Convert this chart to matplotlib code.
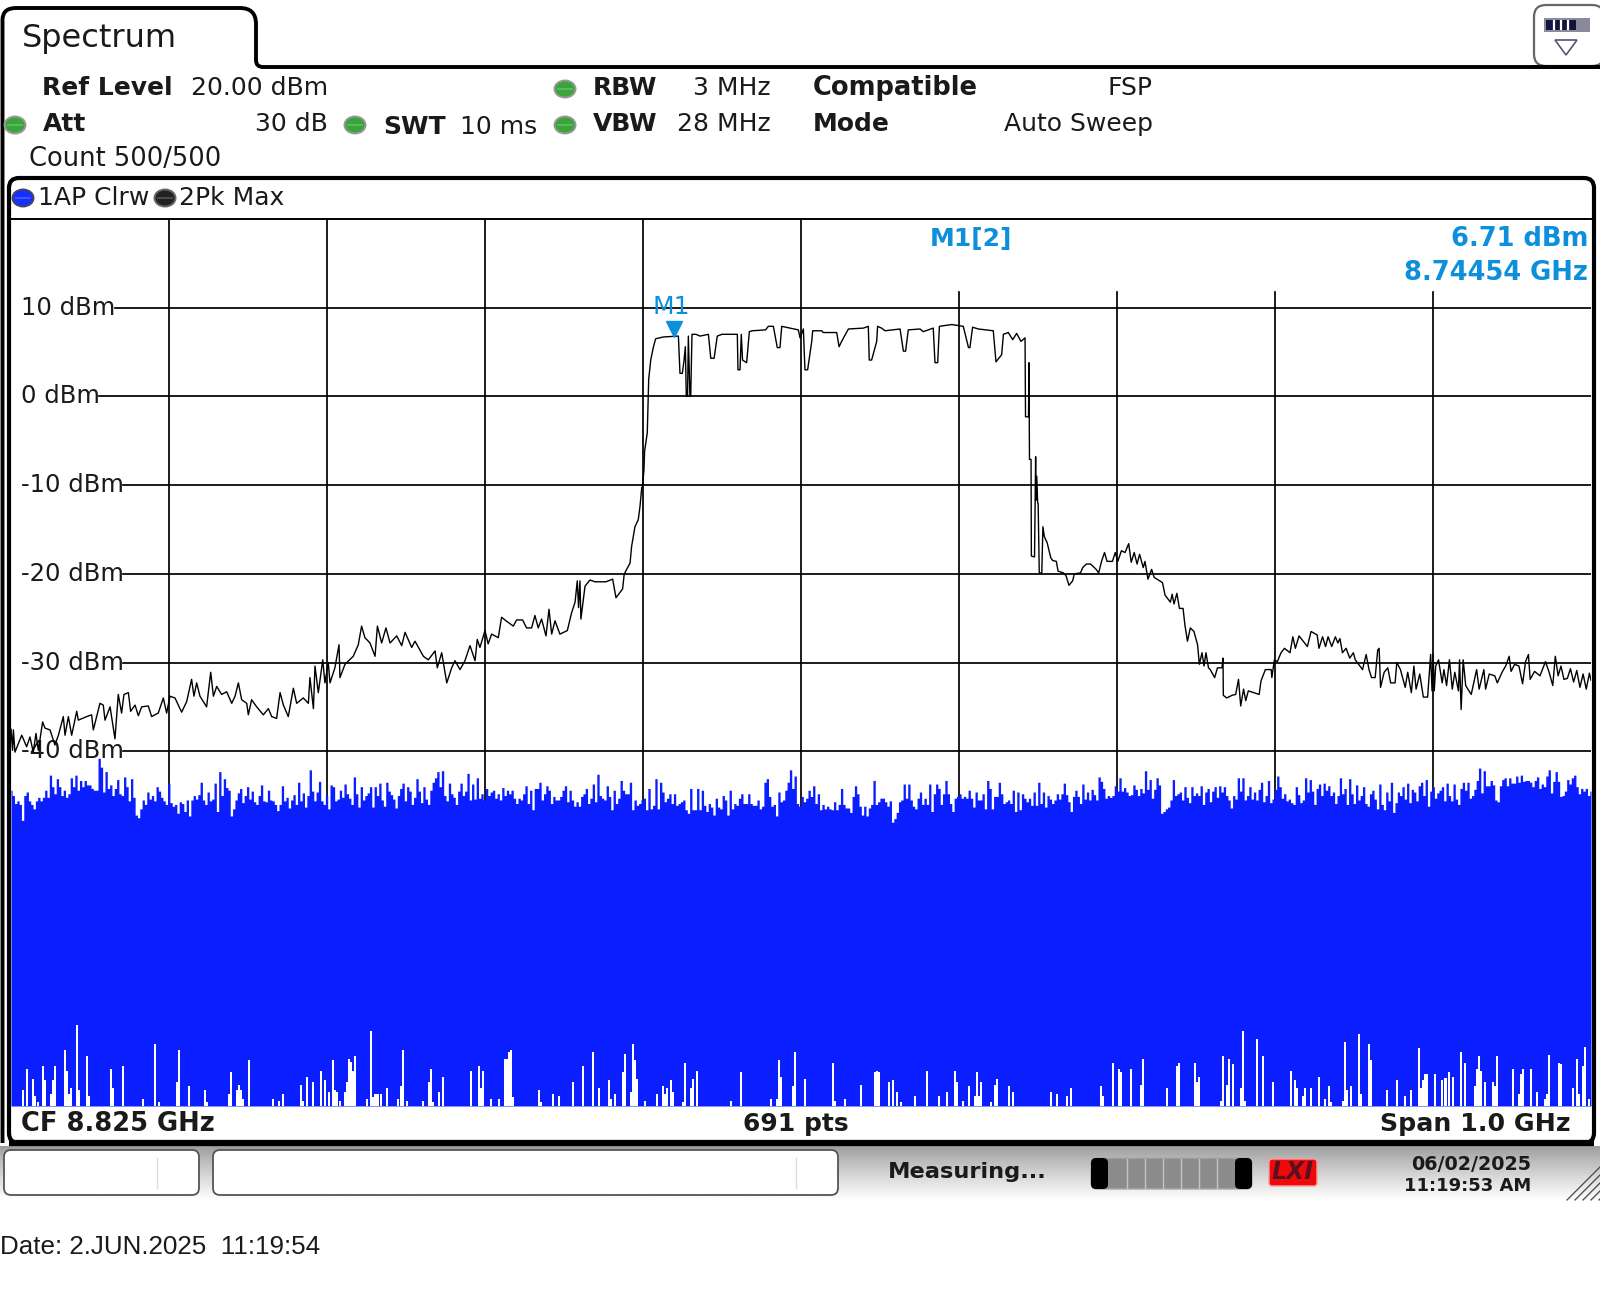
import numpy as np
import matplotlib
matplotlib.use('Agg')
import matplotlib.pyplot as plt
from matplotlib.patches import FancyBboxPatch, Ellipse, Rectangle, Polygon, PathPatch
from matplotlib.path import Path

CF_GHZ = 8.825
SPAN_MHZ = 1000
REF_LEVEL = 20
MARKER_MHZ = 419.54
MARKER_DBM = 6.71

# grid levels and their labels
levels = [10, 0, -10, -20, -30, -40]
level_labels = ['10 dBm', '0 dBm', '-10 dBm', '-20 dBm', '-30 dBm', '-40 dBm']
grid_starts = [66, 56, 71, 71, 71, 71]  # MHz where the line leaves the label
full_height_lines = [100, 200, 300, 400, 500]
short_lines = [600, 700, 800, 900]

# trace 2, Pk Max (offset from start frequency in MHz, level in dBm)
trace2_mhz = [
    0, 1, 1.5, 2.5, 6.8, 9.9, 12, 14.1, 15.8, 17.3, 20, 21.5, 24.7, 27.8, 30, 33.1, 34.2, 36.3, 38.4, 41.6,
    42.6, 47.9, 51, 52.1, 56.3, 58.4, 59.5, 62.7, 65.8, 67.9, 70, 71.5, 74.3, 75.7, 78.5, 80.6, 82.7, 86.9,
    89, 93.2, 96.4, 98.5, 100.6, 103.8, 108, 111.2, 114.3, 115.8, 117.5, 119.6, 123.8, 126.4, 128.1, 130.2,
    133.3, 136.5, 139.7, 141.8, 143.9, 146, 149.2, 150.2, 152.3, 155.5, 159.7, 162.9, 165, 168.1, 170.3,
    172.4, 175.5, 178.7, 180.8, 185, 188.2, 189.2, 191.4, 192.4, 194.5, 197.3, 198.7, 200.8, 201.9, 205,
    207.6, 208.2, 211.4, 216.6, 219.8, 221.9, 224, 227.2, 230.4, 231.9, 234.6, 237.3, 239.9, 244.1, 247.3,
    249.4, 253.6, 255.7, 261, 264.1, 268.4, 269.8, 272.6, 275.8, 278.9, 281, 284.2, 287.3, 290.5, 293.7,
    295.1, 296.8, 300, 302, 304.2, 308.4, 310.5, 313.3, 317.9, 320, 323.8, 326.3, 329.5, 331.6, 333.7,
    335.8, 338.6, 340.5, 342.2, 344.3, 347.4, 352.1, 354.8, 357, 358.4, 359.2, 360.1, 360.7, 363.3, 366.4,
    369.6, 376.6, 380.8, 382.9, 387.1, 388, 388.6, 391.8, 392.8, 394.9, 397, 398.1, 399.2, 399.6, 400.6,
    401, 402.7, 403.6, 404.9, 406.5, 408, 412.9, 422.4, 423.4, 424.9, 426, 426.8, 427.4, 428.2, 428.7,
    429.7, 430.2, 431, 433.5, 436.1, 441.4, 442.9, 445, 447, 450, 459.7, 460.1, 461.4, 462.2, 463, 465.6,
    467.3, 469.2, 477.6, 479.3, 482.5, 485, 486.7, 487.8, 498.3, 499.4, 501.5, 502.5, 504.2, 506.8, 507.4,
    513.1, 514.1, 522.6, 524.1, 525.7, 530, 539.5, 542.6, 543.2, 544.7, 547.9, 548.5, 551, 553.2, 562.7,
    564.8, 566.2, 567.9, 575.3, 577.4, 583.7, 584.8, 586.5, 587.6, 595.4, 602.7, 606, 606.9, 608.6, 612.2,
    621.7, 623.4, 627, 628.1, 631.2, 634, 636.5, 639.2, 641.8, 642.1, 644, 644.3, 644.6, 645.6, 645.8,
    647.8, 648.5, 648.7, 649.2, 649.8, 650.1, 650.8, 652.4, 653.1, 654, 655.8, 658.1, 659.3, 661.6, 662.7,
    666.1, 667.7, 669.6, 671.9, 673, 676.9, 678.3, 680.6, 683.3, 686.8, 688.4, 690.2, 692.1, 693.7, 697.1,
    698.9, 700.5, 702.8, 705.1, 707.4, 709, 710.9, 712.7, 714.3, 716.6, 717.7, 719.6, 721.9, 723.5, 728.8,
    730.4, 733.8, 734.9, 736.1, 737.9, 739.5, 741.8, 743, 744.6, 746.4, 748.7, 751, 752.1, 753.8, 755.1,
    756.3, 757.9, 759, 761.8, 763.6, 766.4, 767.1, 767.3, 769.4, 772.8, 775.1, 776.9, 778.3, 780.1, 781.5,
    783.1, 786.6, 790, 791.1, 793.9, 797.6, 798, 799.6, 801.5, 803.8, 806, 809.5, 811.3, 812.9, 815.2,
    820.5, 822.8, 826.7, 827.8, 830.1, 832, 833.6, 835.9, 838.2, 839.8, 841.1, 842.7, 845, 847.3, 849.6,
    850.8, 855.4, 857.7, 859.5, 861.1, 863.4, 865, 865.9, 866.8, 869.1, 871.4, 873.2, 876, 877.1, 879.4,
    882.4, 884, 886.3, 887.9, 889.3, 891.6, 893.9, 896.6, 898.5, 899.4, 900.1, 900.8, 901.7, 903.5, 905.8,
    906.9, 908.6, 910.4, 912.2, 913.8, 916.1, 916.8, 917.8, 919.1, 920.7, 924.2, 927.6, 929.2, 932.2, 933.3,
    935.6, 939.1, 940.7, 943.7, 946, 948.2, 949.4, 951.7, 954.4, 956.7, 958.6, 960.4, 961.5, 964.3, 967.7,
    971.2, 973.5, 975.8, 977.4, 979.2, 981, 982.9, 985, 987, 989, 991, 993, 995, 997, 999, 1000,
]
trace2_dbm = [
    -37.5, -39.9, -37.6, -40.1, -38.2, -39.5, -38.4, -40.1, -38, -39.9, -36.7, -37.4, -37.6, -39.3, -38.2, -36.1, -38.2, -36.1, -38.2, -35.5,
    -36.5, -36.1, -35.9, -37.6, -34.6, -34.8, -36.5, -35, -38.6, -33.6, -35.7, -33.6, -33.4, -35.5, -34.8, -36, -35, -34.9,
    -36.1, -35.7, -34, -35.7, -33.8, -34, -35.6, -34.4, -31.9, -33.8, -32.3, -33.8, -35, -31.1, -33.8, -32.7,
    -33.6, -33.3, -34.6, -33.8, -32.3, -34.2, -34.6, -35.9, -34.2, -35, -35.9, -35.2, -36.1, -36.3, -33.4,
    -34.8, -36.1, -32.9, -34.6, -34, -34.6, -31.7, -35.2, -30.4, -33.4, -29.7, -32.3, -30, -32.3, -30.6,
    -28, -31.7, -30.2, -29.3, -28, -25.9, -27.2, -27.8, -29.3, -25.9, -27.8, -26.1, -27.8, -27, -28.1,
    -26.6, -28.3, -27.6, -29.3, -29.7, -28.7, -30.6, -28.9, -32.3, -30.6, -29.8, -30.8, -29.8, -28.1, -29.8,
    -27.4, -28.3, -26.4, -27.9, -26.8, -27.2, -24.9, -25.3, -25.9, -25.2, -25.2, -26.1, -26.1, -24.7, -26.1,
    -25.1, -27, -24, -26.8, -25.3, -26.8, -26.4, -24.4, -23.2, -20.8, -23.8, -20.8, -25.1, -21.4, -20.7,
    -20.9, -20.9, -20.6, -22.7, -21.7, -20.2, -19.85, -18.8, -16.9, -14.7, -13.9, -12.4, -10.3, -10.3, -8.3,
    -6.2, -4.1, 1.9, 4.1, 5.5, 6.5, 6.7, 6.8, 2.6, 2.6, 4.1, 5.6, 0, 0, 6.8,
    0, 0, 7, 7, 6.8, 7, 4.3, 4.3, 6.8, 7, 7, 3, 3, 7, 4.1, 3.8,
    7.3, 7.4, 7.5, 7.9, 7.9, 5.5, 5.5, 7.9, 7.5, 6.6, 7.6, 3, 3, 6.2, 7.4,
    7.4, 7.2, 7.2, 5.6, 6.2, 7.6, 7.7, 7.9, 4.1, 4.1, 6.2, 7.9, 7.7, 7.4, 7.6,
    5.1, 5.1, 7.5, 7.6, 7.3, 7.7, 3.8, 3.8, 7.9, 8.1, 7.9, 5.5, 5.5, 7.8, 7.6,
    7.4, 3.9, 4.7, 7, 7.2, 6.4, 7.1, 6.2, 6.6, -2.3, -2.3, 3.8, -7.1, -7.1, -18,
    -18.1, -6.8, -11.7, -9, -12, -12.1, -19.9, -19.9, -14.7, -15.8, -16.5, -18.2, -18.5, -18.6, -19.7,
    -19.9, -20.2, -21.3, -20.8, -20, -19.9, -19.3, -18.9, -18.9, -19.5, -19.9, -18.6, -17.6, -18.6, -18.6,
    -17.6, -18.6, -17.4, -17.6, -16.6, -18.7, -17.6, -18.9, -17.8, -19.3, -18.6, -20.6, -19.5, -20.4, -21,
    -22.4, -23.2, -22.3, -23.4, -22.2, -23.9, -23.9, -25.8, -27.6, -26.1, -26.5, -28, -30.2, -28.9, -30.4,
    -28.9, -30.6, -30.8, -31.7, -30.6, -30.6, -29.5, -33.7, -34, -33.7, -33.6, -31.9, -34.9, -33, -34.3,
    -33.2, -33.4, -33.6, -32.1, -30.8, -30.8, -31.7, -29.7, -29.9, -28.9, -28.4, -28.9, -27.1, -28.4, -27,
    -28.2, -26.5, -26.9, -28.4, -27.1, -28.2, -27.1, -28.2, -27.1, -27.8, -27.3, -28.9, -28.4, -29.5, -28.9,
    -29.7, -30.8, -29.1, -30.8, -31.7, -31.7, -28.6, -28.4, -32.8, -31.1, -30.6, -32.3, -32.3, -30, -30.8,
    -32.8, -31.1, -33.4, -30.4, -33, -31.3, -33.9, -33.9, -29.1, -33.2, -29.1, -33.2, -30.4, -29.7, -32.3,
    -30.8, -32.6, -29.7, -33, -31.1, -33.2, -29.7, -35.3, -29.7, -32.6, -33.6, -30.8, -33, -30.8, -33,
    -31.3, -31.5, -32.3, -31.1, -30.4, -29.3, -31, -30.2, -30.4, -32.4, -29.9, -29.1, -31.9, -31, -31.5,
    -29.9, -31.1, -32.6, -29.3, -31.5, -30.4, -31.9, -31.8, -30.7, -32.2, -30.9, -32.8, -31.3, -33, -31.2, -32,
]

# trace 1, AP Clrw: top edge of the blue band, one value per sweep bin (dBm)
trace1_top = [
    -44.4, -45, -45.9, -45.6, -46, -47.8, -45, -44.6, -45.6, -46, -46.5, -45.6, -45.2, -45.6, -45.2, -44.4, -45.2, -42.7, -44, -44.8,
    -43.1, -44, -45, -44.4, -45.2, -44.8, -43, -44, -42.7, -44.4, -43.3, -44, -43.3, -43.8, -43.8, -44.2, -44.4, -44.4, -40.8, -41.8,
    -44.6, -42.3, -44.2, -43.8, -45, -44.2, -43.2, -44.8, -45, -42.9, -44, -45.6, -43.1, -45.2, -47.2, -47.5, -46.5, -45.5, -46, -44.6,
    -45.4, -45, -45.6, -44, -44.5, -45.2, -45.6, -46, -43.6, -45.8, -46.2, -46, -47, -45.7, -45.9, -46.8, -45.5, -47.3, -45.5, -45,
    -45.4, -44.9, -43.5, -45.5, -46, -44.6, -45.6, -45.4, -43.6, -46.8, -42.3, -45, -43.1, -44.1, -44.4, -47.3, -46.5, -45.5, -44.7, -44.2,
    -45.8, -45, -44, -45.4, -44.5, -45.7, -46, -45, -43.8, -45.6, -45.7, -44.4, -45.5, -45.6, -46, -46.7, -46, -43.9, -45.6, -45.2,
    -46.4, -45.5, -44.9, -46, -43.5, -45.6, -44.7, -46.3, -45, -42.1, -44.5, -45.6, -44.6, -43.4, -45.6, -46, -45, -46.5, -43.8, -44,
    -45.6, -45.4, -44.4, -45.2, -43.7, -44.8, -45.3, -46, -42.9, -44.8, -46.3, -44, -45.5, -45, -44.7, -44, -46.3, -44, -45, -43.6,
    -45.5, -46.2, -43.5, -44.5, -44.9, -45.4, -46.4, -45, -44.2, -43.6, -45.6, -44, -44.5, -46, -45.2, -43.1, -44.5, -45.8, -44, -45.4,
    -46, -44.4, -43.5, -43, -42.3, -44, -42.2, -45, -45.6, -43.6, -44.8, -45.2, -46, -44.5, -43.6, -45, -44.5, -42.5, -45.5, -43.7,
    -45.4, -43, -45.3, -44.8, -45.5, -44.2, -45, -44.6, -44.4, -45.3, -44.8, -45.5, -44.1, -45,
    -44.4, -44.8, -44.4, -45.3, -45.9, -45.3, -45.5, -44.8, -43.9, -45.9, -44.4, -46.6, -44.2, -44.2, -43.5, -45.5, -44.8, -43.9, -44.4, -45.9,
    -45.1, -45.5, -45.5, -45.1, -44.4, -43.9, -45.7, -44.4, -45.5, -46.2, -45.7, -46.2, -45.1, -44.8, -44.2, -45.9, -45.3, -43.7, -45.7, -42.6,
    -45, -45.3, -45.5, -43.9, -45.1, -46.6, -44.4, -45.9, -45.3, -43.3, -44.4, -44.8, -44.8, -43.5, -46.6, -45.5, -46.1, -45.9, -45.5, -45.3,
    -46.6, -44.2, -46.5, -46.1, -43.1, -46.5, -43.5, -44.6, -45.7, -45.3, -44.8, -45.9, -44.8, -46.1, -45.9, -45.7, -45.5, -46.6, -47, -44.2,
    -46.6, -46.6, -44.2, -46.6, -44.4, -46.1, -46.8, -45.9, -46.3, -47.2, -45.3, -46.3, -46.5, -45, -45.5, -47.2, -44.4, -46.5, -45.9, -46.1,
    -45.3, -44.8, -45.9, -45.9, -44.8, -45.9, -46.1, -46.1, -45.5, -46.5,
    -46.2, -43.5, -43.1, -45.1, -46.2, -46, -47.3, -44.6, -45.7, -45.5, -44.4, -43.5, -42.1, -44.2, -42.8, -45.9, -46.2, -45.1, -45.7, -45.3,
    -44.4, -45.1, -43.9, -45.9, -44.8, -46.6, -46, -46.5, -46.2, -46.5, -46.6, -45.7, -46.6, -46, -44.2, -46, -46.4, -46.4, -46.9, -45.1,
    -43.9, -44.8, -46.2, -47.2, -46.2, -47.3, -46.4, -46, -43.3, -46, -45.7, -45.3, -45.3, -45.7, -46.2, -45.6, -48, -47.6, -46.9, -45.7,
    -45.5, -43.7, -45.3, -43.7, -45.5, -46.2, -46.5, -45.3, -44.6, -46, -45.3, -46, -43.7, -46.8, -44.8, -43.7, -44.2, -46, -44.8, -43.3,
    -44.8, -45.9, -46.8, -45.3, -45.1, -44.8, -45.3, -45.1, -45.3, -44.4, -45.3, -46.3, -44.6, -45.5, -45.5, -44.8, -46.5, -43.3, -44.2, -46.5,
    -45.1, -45.1, -43.5, -44.8, -45.9, -45.7, -45.5, -45.9, -44.4, -46.8, -44.6, -46.6, -44.8, -45.3, -45.7, -45.3, -46.1, -44.6, -46.1, -43.5,
    -45.9, -44.6, -46.3, -45, -45.4, -45.9, -45.5, -44.8, -45.4, -44.8, -43.6, -44.9, -45.7, -46.8, -45.1, -44.4, -45.1, -45.9, -43.7, -45.4,
    -44.6, -45.5, -44.3, -44.9, -45.5, -42.9, -43.4, -44.2, -45.3, -45, -45.2, -45, -43.9, -44.5, -43, -44.5, -44.1, -44.6, -45, -44.9,
    -43.8, -44.3, -45, -44.2, -44.7, -42.2, -44.3, -43.2, -45.3, -44.3, -43, -43.8, -47, -46.8, -46.5, -46.3, -45.5, -43.2, -45, -44.8,
    -44.6, -45.5, -44, -45.2, -45.8, -44, -45, -44.7, -45, -43.9, -46, -44.6, -44.2, -45.7, -44.5, -44, -45.2, -43.9, -44.6, -44,
    -45, -45.5, -46.4, -45, -45.4, -43, -44.5, -43, -45.5, -45, -44, -45.4, -44.6, -45.5, -44.3, -43.5, -45.7, -45, -43.3, -45.8,
    -45.4, -44.3, -42.8, -44, -45.3, -44.8, -45.6, -45.4, -45.8, -46, -44, -44.9, -45.8, -45.5, -43, -44.6, -43.2, -44.5, -46, -44.2,
    -43.7, -45, -43.6, -44.4, -43.9, -45, -44.6, -45.9, -45, -43, -44.8, -44.2, -46, -43.1, -44.8, -45.9, -43.8, -45.5, -45, -44,
    -45.9, -46.2, -44.8, -44.4, -45.4, -46.5, -43.7, -46, -46.6, -44.6, -45.6, -43.5, -46.9, -45.8, -44.6, -45, -44, -45.4, -43.6, -45.8,
    -44.3, -44.6, -45.6, -43.9, -43.5, -45, -43.2, -46.2, -44.5, -44, -45.3, -44.7, -44.4, -44, -45.6, -43.6, -45, -45.6, -43.7, -45.4,
    -46, -44.2, -43.5, -44.4, -43.5, -45.3, -45, -44.3, -43.3, -41.9, -44.7, -42.2, -43.9, -43.9, -43.3, -43.8, -45.5, -45.7, -43.9, -43.2,
    -43, -43.9, -43, -43.6, -43.6, -42.8, -43.5, -42.7, -43.4, -43.3, -43.3, -43.5, -44, -43.3, -42.9, -44.2, -43.7, -44, -42.8, -42.1,
    -44.7, -43.4, -42.3, -43.4, -45.1, -45, -44.5, -43.2, -43.7, -43, -42.7, -44, -44.8, -44.2, -44.5, -44.2, -45, -44.5,
]

# gaps at the bottom of the blue band (MHz, level where blue starts in dBm)
gap_mhz = [
    7.6, 10.1, 14, 15, 17.2, 20.1, 21.4, 25.3, 26.6, 27.9, 34, 35.3, 36.6, 37.9, 41.8, 43.1, 47.9, 49.2, 63.4, 64.7,
    70.8, 83.4, 91.2, 93.8, 105, 106.4, 112.5, 122.8, 123.8, 138, 139.3, 143.2, 144.1, 145.4, 146.7, 150.6, 165.8, 169.6, 172.2, 183.5,
    184.8, 187.4, 191.3, 196.1, 198.7, 201.3, 203.9, 205.2, 206.5, 208.4, 211.3, 212.6, 213.9, 215.2, 216.5, 217.8, 225.5, 227.8, 229.1, 230.7,
    232, 233.9, 238.1, 245.2, 246.8, 248.1, 250.7, 260.7, 264.6, 265.9, 267.2, 270.7, 273.3, 291, 296.2, 297.5, 298.8, 303.7, 308.8, 312.7,
    314, 315.3, 316.6, 317.8, 334, 335.3, 343, 346.9, 355.6, 362, 368.2, 372, 378.5, 379.9, 382.4, 387.3, 388.6, 392.4, 393.7, 395,
    396.3, 401.5, 408.9, 412.8, 414.1, 415.4, 417.6, 418.9, 425.4, 426.7, 430.2, 431.5, 434.1, 455.7, 461.8, 480.9, 484.8, 486.1, 487.4, 494.8,
    496.1, 502.6, 520.4, 521.7, 527.8, 538.1, 546.9, 548.2, 549.4, 555.6, 558.2, 560.7, 563.3, 572, 579.8, 587.2, 592.4, 597.6, 598.9, 602.7,
    606.3, 610.2, 611.4, 612.7, 614, 620.2, 622.7, 624, 631.8, 634, 658.3, 662.1, 668.3, 670.9, 689.9, 691.2, 697.7, 701.2, 702.5, 709,
    715.1, 716.4, 731.6, 738, 739.3, 749.3, 750.6, 751.9, 765.8, 767.1, 769.7, 771, 773.5, 778.4, 779.7, 781, 788.7, 792.6, 798.7, 810,
    812.6, 813.9, 817.8, 819.1, 822.9, 827.8, 831.7, 834.2, 835.5, 843, 844.3, 845.5, 848.1, 853.3, 854.6, 859.4, 860.7, 870.7, 877.2, 882.4,
    885.9, 891.1, 892.4, 893.7, 895, 896.2, 901.4, 905.6, 907.9, 910.1, 912.7, 917.9, 920.5, 926.6, 927.9, 929.2, 930.5, 933.1, 937.9, 939.2,
    940.5, 950.5, 954.4, 955.7, 957, 962.1, 966, 971.1, 972.4, 973.4, 979.9, 981.2, 988.6, 991.2, 992.4, 995, 996.3, 998.9,
]
gap_dbm = [
    -78.2, -75.8, -76.9, -78.9, -79.6, -75.5, -77.1, -78.7, -77.1, -75.5, -73.7, -76, -78.6, -78, -70.9, -78.2, -74.4, -78.9, -75.8, -78,
    -75.5, -79.2, -73, -79.6, -77.3, -73.7, -77.8, -78.2, -79.6, -78.7, -76.2, -78.2, -77.6, -78.2, -79.2, -74.8, -79.2, -79.4, -78.7, -77.6,
    -79.4, -76.7, -77.3, -76, -77.1, -78.4, -74.8, -78.2, -78.4, -79.4, -78.4, -77.3, -74.7, -75, -76, -74.4, -79.2, -71.5, -79, -78.7,
    -78.7, -78.7, -78, -79.2, -77.8, -73.7, -79.4, -79.4, -77.3, -75.8, -79.6, -78.4, -76.7, -76, -75.5, -78, -76, -79.2, -79.2, -74.7,
    -74.7, -73.9, -73.7, -79, -78.2, -79.6, -78.7, -78.9, -77.3, -75.5, -73.9, -78, -77.1, -79.2, -78.7, -76.2, -74.1, -78.4, -73, -74.8,
    -77, -79.4, -78.7, -77.8, -78.7, -78, -77.1, -78.4, -79.6, -75.1, -78, -76.9, -76, -79.4, -76.2, -79.2, -79.2, -74.8, -76.7, -77.8,
    -73.9, -76.9, -75.1, -79.4, -79.2, -77.6, -76.2, -76, -76.2, -77.3, -77.1, -78.4, -79.6, -78.9, -76, -78.9, -78.4, -76, -77.3, -79.4,
    -77.8, -78.9, -76.2, -78.9, -77.3, -79.6, -77.6, -76.9, -77.8, -78.4, -78.4, -78.7, -78.9, -78, -77.8, -78.9, -75.1, -75.8, -76.2, -75.8,
    -77.6, -74.7, -78, -75.5, -75.1, -75.1, -77.3, -76.7, -79.4, -74.4, -77.6, -74.7, -75.3, -78, -71.5, -79.4, -72.4, -74.4, -77.3, -76,
    -77.1, -78, -78.9, -78, -78, -76.7, -79.2, -77.8, -79.6, -79.4, -72.8, -78.2, -77.8, -71.9, -78.7, -73, -74.8, -78.2, -77.1, -78.9,
    -78.2, -73.5, -78, -77.1, -76.4, -76.4, -76.4, -77.1, -76.8, -76.2, -76.7, -73.9, -75.1, -77.8, -75.8, -74.4, -76, -77.3, -77.3, -77.8,
    -74.4, -75.8, -78.7, -76.4, -75.8, -75.8, -78.4, -79.2, -78.7, -74.2, -75.1, -75.3, -78, -74.7, -78.7, -75.5, -73.3, -79.2,
]

BLUE = '#0a1eff'
MARK = '#0d8fdc'
TXT = '#1a1a1a'
W, H = 1600, 1292

plt.rcParams['font.family'] = ['DejaVu Sans']
fig = plt.figure(figsize=(W / 100, H / 100), dpi=100, facecolor='white')

# --- instrument screen, in pixels ---
ui = fig.add_axes([0, 0, 1, 1], zorder=0)
ui.set_xlim(0, W)
ui.set_ylim(H, 0)
ui.axis('off')


def label(x, y, s, bold=False, ha='left', size=18, color=TXT):
    ui.text(x, y, s, ha=ha, va='center', fontsize=size, color=color,
            fontweight='bold' if bold else 'normal')


def led(x, y, col, edge='#999999'):
    ui.add_patch(Ellipse((x, y), 21, 17, fc=col, ec=edge, lw=1.4))
    ui.add_patch(Rectangle((x - 8, y - 1), 16, 2, fc='white', ec='none', alpha=0.18))


# status bar gradient
grad = np.linspace(0.45, 0.99, 30).reshape(-1, 1) ** 0.6
ui.imshow(grad, extent=(0, W, 1200, 1146), cmap='gray', vmin=0, vmax=1, aspect='auto', zorder=0)
ui.set_xlim(0, W)
ui.set_ylim(H, 0)

# tab outline and outer edge
tab = Path([(2.5, 1143), (2.5, 20), (2.5, 8), (16, 8), (240, 8), (256, 8), (256, 24), (256, 60), (256, 67), (263, 67), (1600, 67)],
           [Path.MOVETO, Path.LINETO, Path.CURVE3, Path.CURVE3, Path.LINETO, Path.CURVE3, Path.CURVE3, Path.LINETO,
            Path.CURVE3, Path.CURVE3, Path.LINETO])
ui.add_patch(PathPatch(tab, fc='none', ec='black', lw=2.8))
# settings button
ui.add_patch(FancyBboxPatch((1534, 5), 70, 61, boxstyle='round,pad=0,rounding_size=12', fc='white', ec='#666666', lw=1.6))
ui.plot([1534, 1600], [67, 67], color='black', lw=2.8)
ui.add_patch(Rectangle((1544, 18), 46, 14, fc='#8a8a9a', ec='none'))
ui.add_patch(Rectangle((1546, 20), 30, 10, fc='#14143c', ec='none'))
for xb in [1554, 1561, 1568]:
    ui.plot([xb, xb], [21, 29], color='white', lw=1.6)
ui.add_patch(Polygon([[1555, 40], [1577, 40], [1566, 55]], fc='white', ec='#555577', lw=1.2))

# trace window frame
ui.add_patch(FancyBboxPatch((9, 178), 1585, 965, boxstyle='round,pad=0,rounding_size=10', fc='white', ec='black', lw=3))
ui.plot([9, 1594], [1143, 1143], color='black', lw=4.5, solid_capstyle='butt')
ui.plot([9, 1594], [219, 219], color='black', lw=1.4)

# header
label(22, 38, 'Spectrum', size=23)
label(42, 88, 'Ref Level', bold=True)
label(328, 88, '20.00 dBm', ha='right')
label(43, 124, 'Att', bold=True)
label(328, 124, '30 dB', ha='right')
label(383, 127, 'SWT', bold=True)
label(537, 127, '10 ms', ha='right')
label(593, 88, 'RBW', bold=True)
label(771, 88, '3 MHz', ha='right')
label(593, 124, 'VBW', bold=True)
label(771, 124, '28 MHz', ha='right')
label(813, 88, 'Compatible', bold=True, size=18.5)
label(1153, 88, 'FSP', ha='right')
label(813, 124, 'Mode', bold=True)
label(1153, 124, 'Auto Sweep', ha='right')
label(29, 159, 'Count 500/500', size=18.5)
label(38, 198, '1AP Clrw')
label(179, 198, '2Pk Max')
for lx, ly in [(15, 125), (355, 125), (565, 89), (565, 125)]:
    led(lx, ly, '#3aa53a')
led(23, 198, '#1430ff', '#444466')
led(165, 198, '#222222', '#666666')

# footer of the trace window
label(21, 1124, f'CF {CF_GHZ:.3f} GHz', bold=True, size=18.5)
label(796, 1124, '691 pts', bold=True, ha='center')
label(1571, 1124, 'Span 1.0 GHz', bold=True, ha='right', size=18.2)

# status bar
for bx, bw in [(4, 195), (213, 625)]:
    ui.add_patch(FancyBboxPatch((bx, 1150), bw, 45, boxstyle='round,pad=0,rounding_size=7', fc='white', ec='#555555', lw=1.3))
    ui.plot([bx + bw - 42] * 2, [1158, 1188], color='#dddddd', lw=1)
label(888, 1172, 'Measuring...', bold=True, size=16.2)
ui.add_patch(FancyBboxPatch((1091, 1158), 161, 31, boxstyle='round,pad=0,rounding_size=6', fc='#8c8c8c', ec='#aaaaaa', lw=1))
for ex in [1091, 1235]:
    ui.add_patch(FancyBboxPatch((ex, 1158), 17, 31, boxstyle='round,pad=0,rounding_size=5', fc='black', ec='none'))
for sx in [1127, 1145, 1163, 1181, 1199, 1217]:
    ui.plot([sx, sx], [1159, 1188], color='#c4c4c4', lw=1)
ui.add_patch(FancyBboxPatch((1269, 1159), 48, 27, boxstyle='round,pad=0,rounding_size=3', fc='#ee0a0a', ec='#f5a0a0', lw=1))
ui.text(1293, 1172, 'LXI', ha='center', va='center', fontsize=17, fontweight='bold', fontstyle='italic', color='#5a1020')
label(1531, 1164, '06/02/2025', bold=True, ha='right', size=13.8)
label(1531, 1186, '11:19:53 AM', bold=True, ha='right', size=13)
for d in range(0, 40, 8):
    ui.plot([1567 + d, 1600], [1200, 1200 - (33 - d)], color='#444444', lw=0.9)

ui.text(0, 1247, 'Date: 2.JUN.2025  11:19:54', ha='left', va='center', fontsize=18.7, color=TXT,
        family='Liberation Sans')

# --- measurement grid ---
ax = fig.add_axes([11 / W, 1 - 1106 / H, 1580 / W, 887 / H], zorder=1)
ax.patch.set_alpha(0)
ax.set_xlim(0, SPAN_MHZ)
ax.set_ylim(REF_LEVEL - 100, REF_LEVEL)
ax.axis('off')

for xv in full_height_lines:
    ax.plot([xv, xv], [-80, REF_LEVEL], color='black', lw=1.25, zorder=1)
for xv in short_lines:
    ax.plot([xv, xv], [-80, 11.8], color='black', lw=1.25, zorder=1)
for lv, st, txt in zip(levels, grid_starts, level_labels):
    ax.plot([st, SPAN_MHZ], [lv, lv], color='black', lw=1.25, zorder=1)
    ax.text(6.5, lv, txt, ha='left', va='center', fontsize=17.5, color=TXT, zorder=2)

# blue trace with the gaps at its foot
f1 = np.linspace(0, SPAN_MHZ, len(trace1_top))
ax.fill_between(f1, -80, trace1_top, step='mid', color=BLUE, lw=0, antialiased=False, zorder=3)
ax.bar(gap_mhz, np.array(gap_dbm) + 80, bottom=-80, width=1.3, color='white', lw=0, antialiased=False, zorder=4)

# black trace
ax.plot(trace2_mhz, trace2_dbm, color='black', lw=1.0, zorder=5, clip_on=True)

# marker
ax.plot([MARKER_MHZ], [MARKER_DBM + 0.9], marker='v', ms=11, color=MARK, mec=MARK, zorder=6, ls='none')
ax.text(MARKER_MHZ - 1.5, 10.1, 'M1', ha='center', va='center', fontsize=18, color=MARK, zorder=6)
label(971, 239, 'M1[2]', color=MARK, ha='center', bold=True)
label(1588, 239, f'{MARKER_DBM:.2f} dBm', color=MARK, ha='right', bold=True, size=18.5)
label(1588, 273, f'{8.325 + MARKER_MHZ / 1000:.5f} GHz', color=MARK, ha='right', bold=True, size=18.5)

fig.savefig('out.png', dpi=100)
plt.close(fig)
